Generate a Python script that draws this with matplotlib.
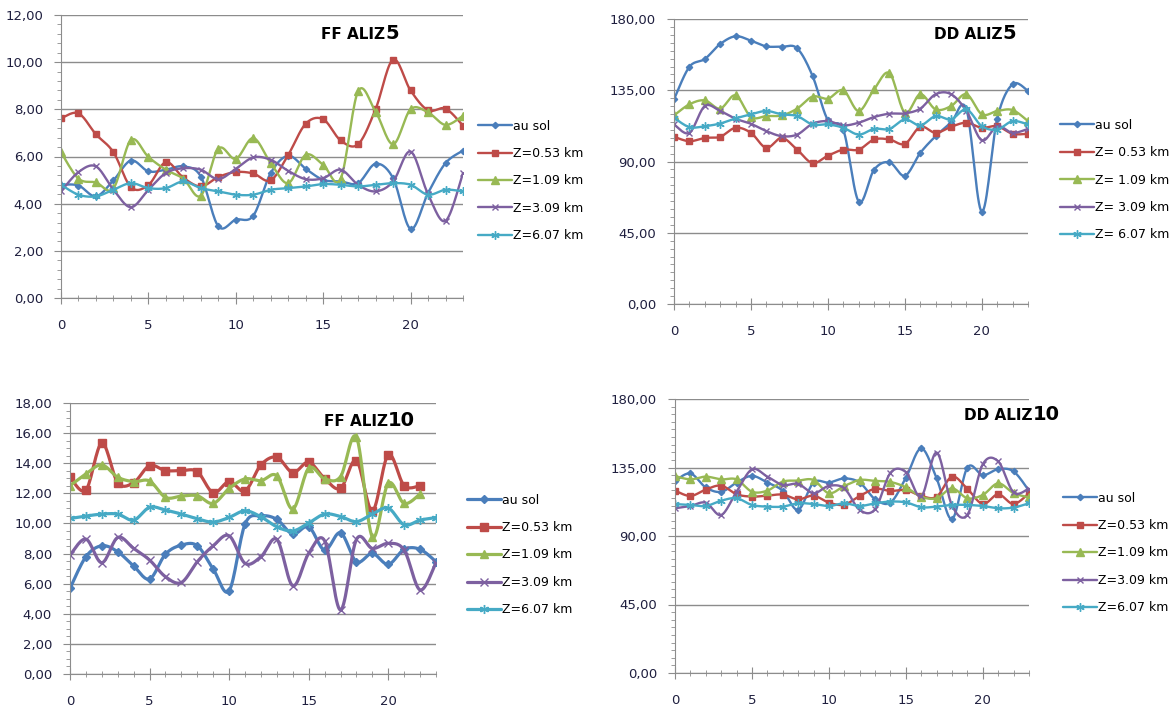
import matplotlib

matplotlib.use("Agg")
import matplotlib.pyplot as plt
import numpy as np
from matplotlib.ticker import FuncFormatter, MultipleLocator

plt.rcParams["font.family"] = ["DejaVu Sans"]

# hourly profiles, 0..23 h
hours = list(range(24))
labels = ["au sol", "Z=0.53 km", "Z=1.09 km", "Z=3.09 km", "Z=6.07 km"]
labels_dd5 = ["au sol", "Z= 0.53 km", "Z= 1.09 km", "Z= 3.09 km", "Z= 6.07 km"]

ff5_sol = [4.80, 4.77, 4.31, 4.99, 5.83, 5.37, 5.44, 5.58, 5.15, 3.04, 3.32, 3.49,
           5.30, 6.03, 5.48, 5.01, 4.94, 4.87, 5.69, 5.08, 2.93, 4.45, 5.72, 6.25]
ff5_z053 = [7.62, 7.83, 6.94, 6.18, 4.70, 4.79, 5.76, 5.10, 4.73, 5.13, 5.34, 5.28,
            4.99, 6.07, 7.39, 7.58, 6.68, 6.52, 8.01, 10.11, 8.80, 7.96, 8.03, 7.31]
ff5_z109 = [6.18, 5.06, 4.90, 4.65, 6.70, 5.98, 5.44, 5.06, 4.34, 6.33, 5.90, 6.78,
            5.72, 4.87, 6.07, 5.65, 5.06, 8.77, 7.90, 6.52, 8.00, 7.87, 7.34, 7.73]
ff5_z309 = [4.52, 5.34, 5.58, 4.59, 3.85, 4.59, 5.30, 5.50, 5.44, 5.04, 5.48, 5.96,
            5.86, 5.39, 5.04, 5.08, 5.44, 4.80, 4.52, 4.94, 6.21, 4.40, 3.27, 5.30]
ff5_z607 = [4.80, 4.38, 4.31, 4.59, 4.87, 4.66, 4.66, 4.94, 4.66, 4.52, 4.38, 4.38,
            4.59, 4.66, 4.73, 4.83, 4.80, 4.73, 4.80, 4.87, 4.80, 4.38, 4.59, 4.52]

dd5_sol = [129.3, 149.8, 154.7, 164.2, 169.1, 166.3, 162.7, 162.5, 161.5, 144.1, 116.0, 110.0,
           64.7, 84.8, 89.5, 81.0, 95.4, 106.0, 114.5, 123.0, 58.3, 117.0, 138.8, 134.6]
dd5_z053 = [105.6, 102.8, 104.9, 105.6, 111.3, 108.1, 98.6, 104.9, 97.5, 89.0, 93.7, 97.5,
            97.5, 103.9, 103.9, 101.1, 111.9, 108.1, 111.9, 114.5, 111.3, 112.3, 107.5, 107.5]
dd5_z109 = [119.1, 126.1, 128.6, 123.4, 131.8, 118.1, 118.7, 119.1, 123.4, 131.0, 129.7, 135.0,
            121.9, 135.6, 145.8, 120.8, 132.5, 122.9, 125.0, 132.5, 119.8, 121.9, 122.5, 115.5]
dd5_z309 = [113.4, 108.1, 125.0, 121.9, 117.0, 113.8, 109.2, 106.0, 107.0, 113.8, 115.5, 112.8,
            114.5, 118.1, 120.2, 120.4, 123.4, 132.5, 132.5, 121.9, 103.4, 112.3, 108.1, 110.6]
dd5_z607 = [117.6, 111.7, 112.3, 114.0, 117.2, 119.8, 121.9, 119.8, 118.7, 113.4, 113.4, 111.3,
            107.0, 110.6, 110.6, 116.6, 112.8, 118.7, 116.6, 122.9, 112.3, 110.2, 115.5, 113.4]

ff10_sol = [5.69, 7.79, 8.52, 8.12, 7.17, 6.31, 7.96, 8.56, 8.52, 6.97, 5.53, 9.96,
            10.50, 10.27, 9.29, 9.78, 8.23, 9.38, 7.46, 8.01, 7.28, 8.28, 8.28, 7.46]
ff10_z053 = [13.07, 12.22, 15.33, 12.71, 12.71, 13.84, 13.51, 13.51, 13.44, 12.04, 12.78, 12.16,
             13.89, 14.40, 13.38, 14.07, 12.98, 12.33, 14.18, 10.84, 14.56, 12.51, 12.51]
ff10_z109 = [12.51, 13.29, 13.89, 13.07, 12.78, 12.82, 11.73, 11.82, 11.84, 11.33, 12.33, 12.96,
             12.84, 13.16, 10.96, 13.67, 12.96, 13.11, 15.73, 9.11, 12.67, 11.33, 11.96]
ff10_z309 = [7.90, 8.96, 7.39, 9.07, 8.34, 7.57, 6.46, 6.08, 7.46, 8.52, 9.18, 7.35,
             7.79, 8.94, 5.86, 8.01, 8.85, 4.25, 8.94, 8.34, 8.68, 8.23, 5.58, 7.39]
ff10_z607 = [10.33, 10.49, 10.62, 10.62, 10.22, 11.07, 10.89, 10.62, 10.31, 10.09, 10.40, 10.84,
             10.44, 9.78, 9.50, 10.03, 10.62, 10.46, 10.12, 10.62, 11.02, 9.91, 10.22, 10.39]

dd10_sol = [126.2, 131.1, 121.9, 119.0, 125.1, 129.5, 125.1, 119.7, 107.2, 125.1, 125.1, 127.8,
            125.1, 114.2, 112.0, 128.2, 147.5, 127.8, 101.1, 135.0, 130.0, 133.9, 132.4, 119.7]
dd10_z053 = [119.8, 116.3, 120.5, 123.1, 117.4, 115.9, 116.5, 117.2, 114.1, 116.5, 111.9, 110.6,
             116.3, 121.0, 119.6, 120.2, 116.3, 115.8, 129.0, 120.9, 111.0, 117.4, 111.0, 118.1]
dd10_z109 = [129.4, 127.2, 129.0, 127.2, 127.2, 119.1, 119.8, 125.7, 126.4, 126.8, 118.1, 122.9,
             126.8, 126.2, 125.5, 122.0, 115.8, 114.8, 121.3, 114.8, 117.0, 124.6, 118.1, 115.4]
dd10_z309 = [108.2, 109.7, 111.9, 103.8, 119.1, 133.8, 129.0, 123.5, 124.2, 118.1, 122.9, 121.3,
             107.1, 107.6, 131.5, 132.0, 116.0, 144.8, 110.0, 104.0, 137.2, 139.0, 118.6, 121.2]
dd10_z607 = [111.0, 110.4, 109.7, 113.2, 114.8, 110.4, 109.3, 109.3, 111.5, 111.0, 109.7, 111.5,
             109.7, 111.5, 112.6, 112.1, 108.9, 109.3, 110.4, 110.4, 109.7, 108.2, 108.7, 111.5]

colors = ["#4A7EBB", "#BE4B48", "#98B954", "#7D60A0", "#46AAC5"]
markers = ["D", "s", "^", "x", (6, 2, 0)]

W, H = 1174, 706


def box(l, t, r, b):
    return [l / W, 1 - b / H, (r - l) / W, (b - t) / H]


def smooth(y, k=16):
    # Bezier smoothing through the points, as spreadsheet "smoothed line" charts do
    pts = np.column_stack([np.arange(len(y)), np.asarray(y, float)])
    ext = np.vstack([pts[0], pts, pts[-1]])
    t = np.linspace(0, 1, k, endpoint=False)[:, None]
    segs = []
    for i in range(len(pts) - 1):
        p0, p1, p2, p3 = ext[i], ext[i + 1], ext[i + 2], ext[i + 3]
        c1 = p1 + (p2 - p0) / 6
        c2 = p2 - (p3 - p1) / 6
        segs.append((1 - t) ** 3 * p1 + 3 * (1 - t) ** 2 * t * c1
                    + 3 * (1 - t) * t ** 2 * c2 + t ** 3 * p2)
    segs.append(pts[-1:])
    return np.vstack(segs), k


def panel(fig, rect, series, names, ymax, ystep, yminor, lw, msizes,
          title, num, title_xy, leg_xy):
    ax = fig.add_axes(rect)
    for vals, name, c, m, ms in zip(series, names, colors, markers, msizes):
        xy, k = smooth(vals)
        ax.plot(xy[:, 0], xy[:, 1], color=c, lw=lw, marker=m, ms=ms,
                markevery=[i * k for i in range(len(vals))],
                mec=c, mfc=c, mew=1.0, label=name, solid_capstyle="round")
    ax.set_xlim(0, 23)
    ax.set_ylim(0, ymax)
    ax.yaxis.set_major_locator(MultipleLocator(ystep))
    ax.yaxis.set_minor_locator(MultipleLocator(yminor))
    ax.xaxis.set_major_locator(MultipleLocator(5))
    ax.xaxis.set_minor_locator(MultipleLocator(1))
    ax.yaxis.set_major_formatter(FuncFormatter(lambda v, _: f"{v:.2f}".replace(".", ",")))
    ax.grid(axis="y", which="major", color="#8c8c8c", lw=1)
    ax.set_axisbelow(True)
    for s in ("top", "right"):
        ax.spines[s].set_visible(False)
    for s in ("left", "bottom"):
        ax.spines[s].set_color("#8c8c8c")
    ax.tick_params(axis="x", which="major", direction="inout", length=8, color="#8c8c8c",
                   pad=11, labelsize=9.5, labelcolor="#1f1f3f")
    ax.tick_params(axis="x", which="minor", direction="inout", length=5, color="#8c8c8c")
    ax.tick_params(axis="y", which="major", direction="out", length=5, color="#8c8c8c",
                   pad=8, labelsize=9.5, labelcolor="#1f1f3f")
    ax.tick_params(axis="y", which="minor", direction="out", length=3, color="#8c8c8c")
    tx, ty = title_xy
    fig.text(tx / W, 1 - ty / H, title, ha="right", va="baseline",
             fontsize=11, fontweight="bold")
    fig.text(tx / W, 1 - ty / H, num, ha="left", va="baseline",
             fontsize=14, fontweight="bold")
    lx, ly = leg_xy
    ax.legend(loc="center left", bbox_to_anchor=(lx / W, 1 - ly / H),
              bbox_transform=fig.transFigure, frameon=False, numpoints=1,
              handlelength=2.7, handletextpad=0.1, labelspacing=1.15,
              borderaxespad=0, borderpad=0, fontsize=9)
    return ax


fig = plt.figure(figsize=(W / 100, H / 100), dpi=100)

small = [3.2, 5, 5.5, 5, 6]
big = [3.8, 6, 6, 5.5, 6.5]

panel(fig, box(61, 15, 463, 298), [ff5_sol, ff5_z053, ff5_z109, ff5_z309, ff5_z607],
      labels, 12, 2, 0.4, 1.7, small, "FF ALIZ", "5", (385, 39), (478, 181))
panel(fig, box(674, 19, 1028, 304), [dd5_sol, dd5_z053, dd5_z109, dd5_z309, dd5_z607],
      labels_dd5, 180, 45, 5, 1.7, small, "DD ALIZ", "5", (1002, 39), (1060, 180))
panel(fig, box(70, 403, 436, 674), [ff10_sol, ff10_z053, ff10_z109, ff10_z309, ff10_z607],
      labels, 18, 2, 0.5, 2.3, big, "FF ALIZ", "10", (388, 426), (467, 555))
panel(fig, box(675, 399, 1029, 673), [dd10_sol, dd10_z053, dd10_z109, dd10_z309, dd10_z607],
      labels, 180, 45, 5, 1.7, small, "DD ALIZ", "10", (1033, 420), (1063, 553))

fig.savefig("out.png", dpi=100)
